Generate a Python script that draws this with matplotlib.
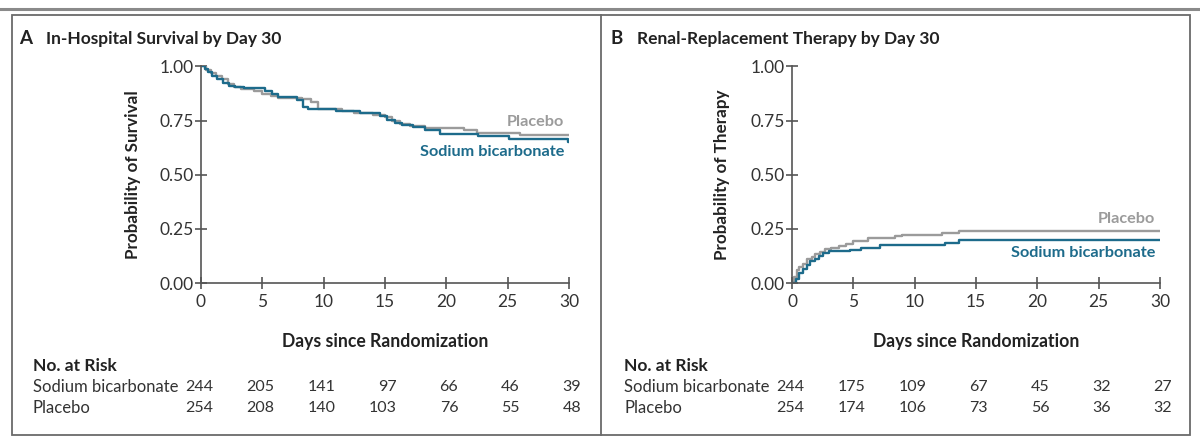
import matplotlib
matplotlib.use("Agg")
import matplotlib.pyplot as plt
import matplotlib.transforms as mtransforms
from matplotlib.lines import Line2D
from matplotlib.patches import Rectangle

plt.rcParams['font.family'] = ['Lato', 'DejaVu Sans']

# ---- datos ----
dias_ticks = [0, 5, 10, 15, 20, 25, 30]

# Panel A: supervivencia
t_bic_a = [0, 0.3, 0.6, 0.9, 1.3, 1.8, 2.3, 2.8, 3.5, 5.2, 5.8, 6.3, 7.8, 8.3, 8.7,
           11.0, 13.0, 14.6, 15.2, 15.8, 16.4, 17.3, 18.3, 19.5, 22.6, 25.1, 29.9, 30]
s_bic_a = [1.0, 0.99, 0.975, 0.955, 0.94, 0.925, 0.91, 0.905, 0.90, 0.885, 0.875, 0.86,
           0.845, 0.815, 0.805, 0.795, 0.785, 0.77, 0.755, 0.74, 0.73, 0.72, 0.705, 0.69,
           0.68, 0.667, 0.652, 0.652]
t_pla_a = [0, 0.4, 0.8, 1.2, 1.7, 2.2, 2.7, 3.3, 4.3, 5.0, 5.7, 6.3, 8.2, 9.0, 9.5,
           11.5, 12.5, 14.0, 15.0, 15.6, 16.2, 17.0, 18.3, 21.4, 22.5, 26.0, 30]
s_pla_a = [1.0, 0.985, 0.97, 0.955, 0.94, 0.92, 0.905, 0.895, 0.885, 0.875, 0.865, 0.855,
           0.85, 0.835, 0.805, 0.795, 0.785, 0.775, 0.765, 0.75, 0.735, 0.725, 0.716,
           0.705, 0.693, 0.683, 0.683]

# Panel B: terapia de reemplazo renal
t_bic_b = [0, 0.3, 0.6, 0.9, 1.2, 1.5, 1.9, 2.2, 2.5, 3.0, 4.7, 5.6, 7.2, 12.5, 13.6, 30]
p_bic_b = [0, 0.02, 0.045, 0.065, 0.085, 0.10, 0.112, 0.125, 0.137, 0.147, 0.154, 0.163,
           0.174, 0.185, 0.197, 0.197]
t_pla_b = [0, 0.2, 0.4, 0.6, 0.9, 1.2, 1.6, 1.9, 2.3, 2.7, 3.2, 3.8, 4.4, 5.0, 6.2, 8.4,
           9.0, 12.2, 13.6, 30]
p_pla_b = [0, 0.03, 0.06, 0.075, 0.09, 0.11, 0.12, 0.135, 0.145, 0.155, 0.162, 0.17,
           0.182, 0.194, 0.208, 0.217, 0.224, 0.231, 0.24, 0.24]

# Numero en riesgo
riesgo_bic_a = [244, 205, 141, 97, 66, 46, 39]
riesgo_pla_a = [254, 208, 140, 103, 76, 55, 48]
riesgo_bic_b = [244, 175, 109, 67, 45, 32, 27]
riesgo_pla_b = [254, 174, 106, 73, 56, 36, 32]

AZUL = '#1d6b8b'
GRIS = '#9b9b9b'
EJE = '#555555'
TEXTO = '#222222'

fig = plt.figure(figsize=(12, 4.44), dpi=100)
W, H = 1200, 444


def fx(px):
    return px / W


def fy(py):
    return 1 - py / H


# Marco
fig.add_artist(Line2D([0, 1], [fy(9), fy(9)], color='#8a8a8a', lw=2.2))
fig.add_artist(Rectangle((fx(12), fy(435)), fx(1190) - fx(12), fy(15) - fy(435),
                         fill=False, ec='#6a6a6a', lw=1.3))
fig.add_artist(Line2D([fx(601), fx(601)], [fy(435), fy(15)], color='#6a6a6a', lw=1.3))


def panel(x_ax, letra, x_letra, x_tit, titulo, ylabel, ylab_x,
          t1, v1, t2, v2, y_pla, y_bic, r_bic, r_pla, x_tabla):
    ax = fig.add_axes([fx(x_ax), fy(283), fx(368), fy(66.5) - fy(283)])
    ax.step(t2, v2, where='post', color=GRIS, lw=1.7)
    ax.step(t1, v1, where='post', color=AZUL, lw=1.7)
    ax.set_xlim(0, 30)
    ax.set_ylim(0, 1)
    ax.set_xticks(dias_ticks)
    ax.set_yticks([0, 0.25, 0.5, 0.75, 1.0])
    ax.set_yticklabels(['0.00', '0.25', '0.50', '0.75', '1.00'])
    for s in ['top', 'right']:
        ax.spines[s].set_visible(False)
    for s in ['left', 'bottom']:
        ax.spines[s].set_color(EJE)
        ax.spines[s].set_linewidth(1.2)
    ax.tick_params(direction='inout', length=8, width=1.2, color=EJE,
                   labelsize=12.5, labelcolor='#333333')
    ax.tick_params(axis='x', pad=4)
    ax.tick_params(axis='y', pad=1)
    ax.set_facecolor('none')
    ax.set_xlabel('Days since Randomization', fontsize=12.7, fontweight='bold', color=TEXTO)
    ax.xaxis.set_label_coords(0.5, -0.23)
    ax.set_ylabel(ylabel, fontsize=12.3, fontweight='bold', color=TEXTO)
    ax.yaxis.set_label_coords(ylab_x, 0.5)

    ax.text(29.6, y_pla, 'Placebo', ha='right', va='center', color=GRIS,
            fontsize=11.7, fontweight='bold')
    ax.text(29.6, y_bic, 'Sodium bicarbonate', ha='right', va='center', color=AZUL,
            fontsize=11.7, fontweight='bold')

    fig.text(fx(x_letra), fy(39), letra, fontsize=13.5, fontweight='bold',
             color=TEXTO, va='center')
    fig.text(fx(x_tit), fy(39), titulo, fontsize=12.5, fontweight='bold',
             color=TEXTO, va='center')

    # tabla de riesgo
    fig.text(fx(x_tabla), fy(366), 'No. at Risk', fontsize=12.5, fontweight='bold',
             color=TEXTO, va='center')
    fig.text(fx(x_tabla), fy(387), 'Sodium bicarbonate', fontsize=12,
             color='#333333', va='center')
    fig.text(fx(x_tabla), fy(408), 'Placebo', fontsize=12, color='#333333', va='center')
    base = mtransforms.blended_transform_factory(ax.transData, fig.transFigure)
    trans = mtransforms.offset_copy(base, fig=fig, x=12, y=0, units='dots')
    for d, a, b in zip(dias_ticks, r_bic, r_pla):
        ax.text(d, fy(387), str(a), transform=trans, ha='right', va='center',
                fontsize=11.5, color='#333333', clip_on=False)
        ax.text(d, fy(408), str(b), transform=trans, ha='right', va='center',
                fontsize=11.5, color='#333333', clip_on=False)
    return ax


panel(201, 'A', 19, 46, 'In-Hospital Survival by Day 30', 'Probability of Survival', -0.163,
      t_bic_a, s_bic_a, t_pla_a, s_pla_a, 0.745, 0.605, riesgo_bic_a, riesgo_pla_a, 33)
panel(792, 'B', 611, 637, 'Renal-Replacement Therapy by Day 30', 'Probability of Therapy', -0.168,
      t_bic_b, p_bic_b, t_pla_b, p_pla_b, 0.295, 0.14, riesgo_bic_b, riesgo_pla_b, 624)

fig.savefig('out.png', dpi=100)
